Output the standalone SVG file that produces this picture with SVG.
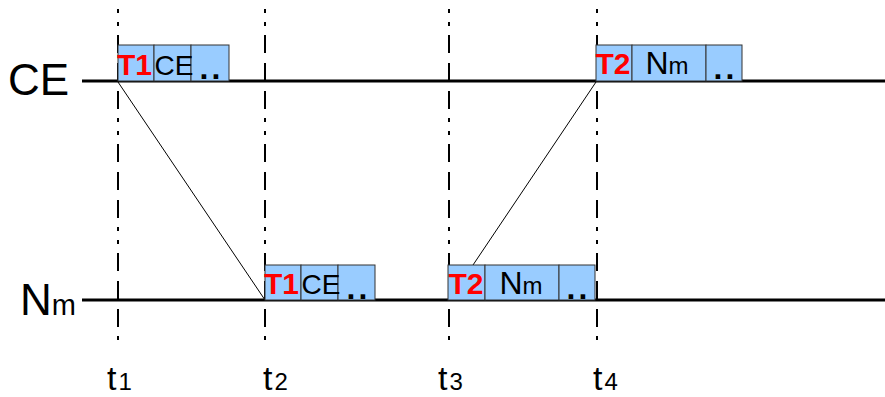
<svg xmlns="http://www.w3.org/2000/svg" width="885" height="397" viewBox="0 0 885 397">
<style>
text{font-family:"Liberation Sans",Arial,sans-serif;}
.lane{stroke:#000;stroke-width:3;fill:none}
.vt{stroke:#000;stroke-width:2;fill:none;stroke-dasharray:4 9 4 9 18 10 18 10 18 9}
.cell{fill:#99ccff;stroke:#333;stroke-width:1}
.tk{fill:#ff0000;font-weight:bold;font-size:30px}
.ce{fill:#000;font-size:28px}
.dots{fill:#000;font-weight:bold;font-size:32px;letter-spacing:3px}
.nb{fill:#000;font-size:32px}
.big{fill:#000;font-size:44px}
.tl{fill:#000;font-size:34px}
.conn{stroke:#000;stroke-width:1;fill:none}
</style>
<g id="timelines">
<line class="lane" x1="82" y1="81" x2="885" y2="81"/>
<line class="lane" x1="82" y1="300" x2="885" y2="300"/>
<line class="vt" x1="118" y1="9" x2="118" y2="342"/>
<line class="vt" x1="265" y1="9" x2="265" y2="342"/>
<line class="vt" x1="449" y1="9" x2="449" y2="342"/>
<line class="vt" x1="597" y1="9" x2="597" y2="342"/>
</g>
<g id="connectors">
<line class="conn" x1="118" y1="82" x2="265" y2="300"/>
<line class="conn" x1="473" y1="265" x2="596" y2="82"/>
</g>
<g id="label-CE"><text class="big" x="8" y="95">CE</text></g>
<g id="label-Nm"><text class="big" x="20" y="315">N<tspan font-size="29">m</tspan></text></g>
<g id="msg1-CE">
<rect class="cell" x="118" y="45" width="36" height="36"/>
<rect class="cell" x="154" y="45" width="37" height="36"/>
<rect class="cell" x="191" y="45" width="38" height="36"/>
<text class="tk" x="117" y="75">T1</text>
<text class="ce" x="154.5" y="75">CE</text>
<text class="dots" x="199.5" y="79">..</text>
</g>
<g id="msg1-Nm">
<rect class="cell" x="265" y="265" width="36" height="35"/>
<rect class="cell" x="301" y="265" width="37" height="35"/>
<rect class="cell" x="338" y="265" width="37" height="35"/>
<text class="tk" x="264" y="294">T1</text>
<text class="ce" x="301.5" y="294">CE</text>
<text class="dots" x="346.5" y="298.5">..</text>
</g>
<g id="msg2-Nm">
<rect class="cell" x="448" y="265" width="37" height="35"/>
<rect class="cell" x="485" y="265" width="74" height="35"/>
<rect class="cell" x="559" y="265" width="36" height="35"/>
<text class="tk" x="448.5" y="294">T2</text>
<text class="nb" x="499.5" y="294">N<tspan font-size="24">m</tspan></text>
<text class="dots" x="566.5" y="298.5">..</text>
</g>
<g id="msg2-CE">
<rect class="cell" x="596" y="45" width="36" height="36"/>
<rect class="cell" x="632" y="45" width="74" height="36"/>
<rect class="cell" x="706" y="45" width="36" height="36"/>
<text class="tk" x="595.5" y="74">T2</text>
<text class="nb" x="645.5" y="74">N<tspan font-size="24">m</tspan></text>
<text class="dots" x="713.5" y="79">..</text>
</g>
<g id="t1"><text class="tl" x="107" y="390">t<tspan font-size="24" dx="2">1</tspan></text></g>
<g id="t2"><text class="tl" x="263" y="390">t<tspan font-size="24" dx="2">2</tspan></text></g>
<g id="t3"><text class="tl" x="438" y="390">t<tspan font-size="24" dx="2">3</tspan></text></g>
<g id="t4"><text class="tl" x="593" y="390">t<tspan font-size="24" dx="2">4</tspan></text></g>
</svg>
